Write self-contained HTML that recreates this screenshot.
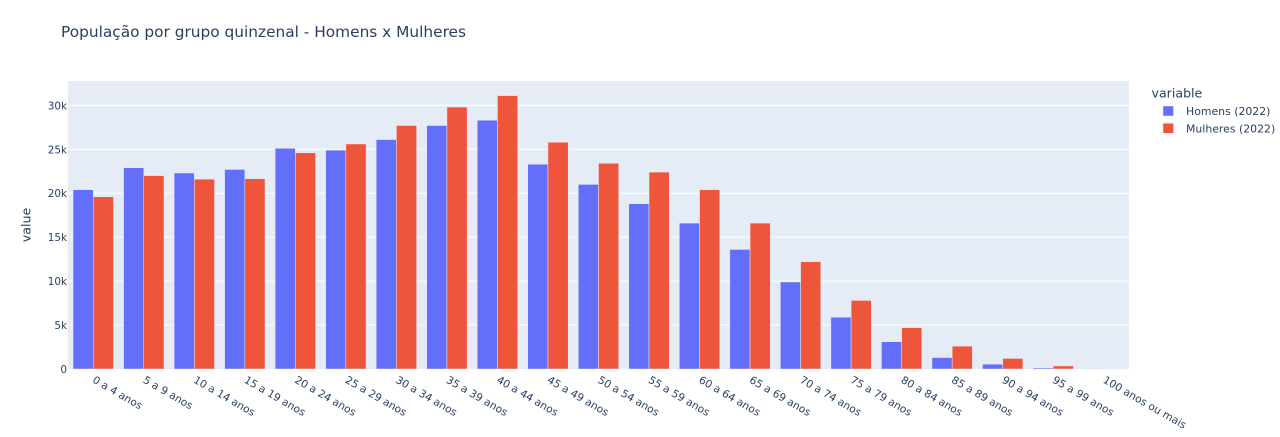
<!DOCTYPE html>
<html lang="pt">
<head>
<meta charset="utf-8">
<title>População por grupo quinzenal</title>
<style>
html,body{margin:0;padding:0;background:#fff;width:1280px;height:437px;overflow:hidden}
svg{display:block}
text{font-family:"DejaVu Sans","Liberation Sans",sans-serif;fill:#2a3f5f}
</style>
</head>
<body>
<svg id="chart" width="1280" height="437" viewBox="0 0 1280 437" xmlns="http://www.w3.org/2000/svg">
  <rect x="68" y="81" width="1061" height="288" fill="#E5ECF6"/>
  <g id="grid"></g>
  <g id="bars"></g>
  <g id="yticks"></g>
  <g id="xticks"></g>
  <text x="61" y="37" font-size="15.2" textLength="405" lengthAdjust="spacingAndGlyphs">População por grupo quinzenal - Homens x Mulheres</text>
  <text transform="translate(30.5,225) rotate(-90)" font-size="12.6" text-anchor="middle">value</text>
  <g>
    <text x="1151.500" y="97.500" font-size="12.6">variable</text>
    <g>
      <rect x="1163" y="106" width="10.5" height="10" fill="#636efa" stroke="#E5ECF6" stroke-width="0.5"/>
      <text x="1186" y="115" font-size="10.9">Homens (2022)</text>
    </g>
    <g>
      <rect x="1163" y="123.300" width="10.5" height="10" fill="#EF553B" stroke="#E5ECF6" stroke-width="0.5"/>
      <text x="1186" y="132.500" font-size="10.9">Mulheres (2022)</text>
    </g>
  </g>
</svg>
<script>
const categories = ["0 a 4 anos","5 a 9 anos","10 a 14 anos","15 a 19 anos","20 a 24 anos","25 a 29 anos","30 a 34 anos","35 a 39 anos","40 a 44 anos","45 a 49 anos","50 a 54 anos","55 a 59 anos","60 a 64 anos","65 a 69 anos","70 a 74 anos","75 a 79 anos","80 a 84 anos","85 a 89 anos","90 a 94 anos","95 a 99 anos","100 anos ou mais"];
const homens = [20400,22900,22300,22700,25100,24900,26100,27700,28300,23300,21000,18800,16600,13600,9900,5900,3100,1300,550,120,10];
const mulheres = [19600,22000,21600,21650,24600,25600,27700,29800,31100,25800,23400,22400,20400,16600,12200,7800,4700,2600,1200,350,50];
const tickValues = [0,5000,10000,15000,20000,25000,30000];
const tickLabels = ["0","5k","10k","15k","20k","25k","30k"];

const NS = "http://www.w3.org/2000/svg";
const plotLeft = 68, plotWidth = 1061, plotBottom = 369;
const yScale = 263.7 / 30000;
function yPos(v) { return plotBottom - v * yScale; }
function bandWidth() { return plotWidth / categories.length; }
function xCenter(i) { return plotLeft + bandWidth() * (i + 0.5); }
function make(tag, attrs, parent) {
  const el = document.createElementNS(NS, tag);
  for (const k in attrs) el.setAttribute(k, attrs[k]);
  parent.appendChild(el);
  return el;
}
const gridG = document.getElementById("grid");
const barsG = document.getElementById("bars");
const yG = document.getElementById("yticks");
const xG = document.getElementById("xticks");

tickValues.forEach(function (v, i) {
  if (v > 0) {
    const line = make("line", {x1: plotLeft, x2: plotLeft + plotWidth, y1: yPos(v), y2: yPos(v), stroke: "#fff", "stroke-width": 1}, gridG);
    
    
  }
  const label = make("text", {x: 67, y: yPos(v) + 4, "font-size": 10.4, "text-anchor": "end"}, yG);
  label.textContent = tickLabels[i];
  
  
});

function drawSeries(values, offsetFactor, color, name) {
  values.forEach(function (v, i) {
    const w = bandWidth() * 0.4;
    const x = xCenter(i) + offsetFactor * w;
    const y = yPos(v);
    const bar = make("rect", {x: x, y: y, width: w, height: plotBottom - y, fill: color, stroke: "#E5ECF6", "stroke-width": 0.5}, barsG);
    
    
  });
}
drawSeries(homens, -1, "#636efa", "bar-homens");
drawSeries(mulheres, 0, "#EF553B", "bar-mulheres");

categories.forEach(function (c, i) {
  const x = xCenter(i) - 1.500;
  const label = make("text", {transform: "translate(" + x + ",382) rotate(30)", "font-size": 10.6}, xG);
  label.textContent = c;
  
  
});
</script>
</body>
</html>
